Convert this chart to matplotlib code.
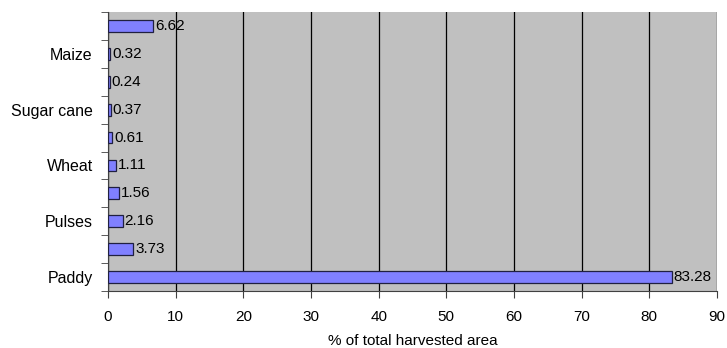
import matplotlib

matplotlib.use("Agg")
import matplotlib.pyplot as plt
import numpy as np

# bottom to top
crops = ["Paddy", "", "Pulses", "", "Wheat", "", "Sugar cane", "", "Maize", ""]
share = [83.28, 3.73, 2.16, 1.56, 1.11, 0.61, 0.37, 0.24, 0.32, 6.62]

plt.rcParams["font.family"] = ["Liberation Sans", "DejaVu Sans"]

fig = plt.figure(figsize=(7.27, 3.48), dpi=100)
ax = fig.add_axes([108 / 727, 57 / 348, 609 / 727, 279 / 348])
ax.set_facecolor("#c0c0c0")

y = np.arange(len(crops))
bars = ax.barh(y, share, height=0.42, color="#8080ff", edgecolor="#202040", linewidth=0.9, zorder=3)
ax.bar_label(bars, labels=[f"{v:.2f}" for v in share], padding=1.5, fontsize=11, zorder=4)

ax.set_xlim(0, 90)
ax.set_ylim(-0.5, len(crops) - 0.5)
ax.set_xticks(np.arange(0, 91, 10))
ax.xaxis.grid(True, color="black", linewidth=0.9, zorder=1)
ax.set_axisbelow(True)

ax.set_yticks(y)
ax.set_yticklabels(crops)
ax.set_yticks(np.arange(-0.5, len(crops)), minor=True)
ax.tick_params(axis="y", which="major", length=0, pad=11, labelsize=11.5)
ax.tick_params(axis="y", which="minor", length=5, color="#404040")
ax.tick_params(axis="x", length=5, color="#404040", labelsize=11, pad=9)

for side in ["top", "right"]:
    ax.spines[side].set_visible(False)
for side in ["left", "bottom"]:
    ax.spines[side].set_color("#404040")

ax.set_xlabel("% of total harvested area", fontsize=11, labelpad=7)

fig.savefig("out.png", dpi=100)
